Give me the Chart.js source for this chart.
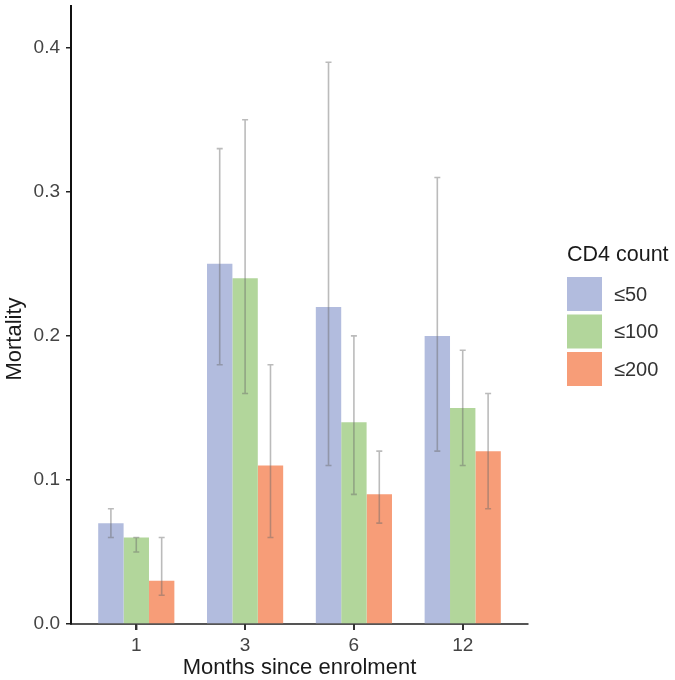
<!DOCTYPE html>
<html>
<head>
<meta charset="utf-8">
<script src="https://cdn.jsdelivr.net/npm/chart.js@4"></script>
<style>
  html, body { margin: 0; padding: 0; background: #fff; }
  #wrap { width: 675px; height: 680px; }
</style>
</head>
<body>
<div id="wrap"><canvas id="c" width="675" height="680"></canvas></div>
<script>
// ---- data ----
const categories = ['1', '3', '6', '12'];
const seriesNames = ['≤50', '≤100', '≤200'];
const colors = ['#B2BCDE', '#B2D69B', '#F79D78'];
const mortality50  = [0.07, 0.25, 0.22, 0.20];
const mortality100 = [0.06, 0.24, 0.14, 0.15];
const mortality200 = [0.03, 0.11, 0.09, 0.12];
const lower50  = [0.06, 0.18, 0.11, 0.12];
const upper50  = [0.08, 0.33, 0.39, 0.31];
const lower100 = [0.05, 0.16, 0.09, 0.11];
const upper100 = [0.06, 0.35, 0.20, 0.19];
const lower200 = [0.02, 0.06, 0.07, 0.08];
const upper200 = [0.06, 0.18, 0.12, 0.16];
const yTicks = [0.0, 0.1, 0.2, 0.3, 0.4];
const legendTitle = 'CD4 count';
const xTitle = 'Months since enrolment';
const yTitle = 'Mortality';

const values = [mortality50, mortality100, mortality200];
const lowers = [lower50, lower100, lower200];
const uppers = [upper50, upper100, upper200];

const FONT = "'Liberation Sans', Arial, sans-serif";

const datasets = seriesNames.map((name, s) => ({
  label: name,
  data: values[s].map((v, i) => ({ x: i, y: v, lo: lowers[s][i], hi: uppers[s][i] })),
  backgroundColor: colors[s],
  borderWidth: 0,
  categoryPercentage: 0.7,
  barPercentage: 1.0
}));

const errorBars = {
  id: 'errorBars',
  afterDatasetsDraw(chart) {
    const ctx = chart.ctx;
    const ys = chart.scales.y;
    ctx.save();
    ctx.strokeStyle = 'rgba(105,105,105,0.45)';
    ctx.lineWidth = 1.6;
    chart.data.datasets.forEach((ds, di) => {
      const meta = chart.getDatasetMeta(di);
      meta.data.forEach((bar, i) => {
        const d = ds.data[i];
        const x = bar.x;
        const y1 = ys.getPixelForValue(d.lo);
        const y2 = ys.getPixelForValue(d.hi);
        const cap = 3;
        ctx.beginPath();
        ctx.moveTo(x, y1); ctx.lineTo(x, y2);
        ctx.moveTo(x - cap, y1); ctx.lineTo(x + cap, y1);
        ctx.moveTo(x - cap, y2); ctx.lineTo(x + cap, y2);
        ctx.stroke();
      });
    });
    ctx.restore();
  }
};

const extras = {
  id: 'extras',
  afterDraw(chart) {
    const ctx = chart.ctx;
    const ca = chart.chartArea;
    const xs = chart.scales.x;
    ctx.save();
    // x tick marks
    ctx.fillStyle = '#333';
    categories.forEach((c, i) => {
      const px = Math.round(xs.getPixelForValue(i));
      ctx.fillRect(px - 1, ca.bottom, 2, 6);
    });
    // axis titles
    ctx.fillStyle = '#1a1a1a';
    ctx.font = '22px ' + FONT;
    ctx.textAlign = 'center';
    ctx.textBaseline = 'middle';
    ctx.fillText(xTitle, (ca.left + ca.right) / 2, 668);
    ctx.save();
    ctx.translate(15, 339);
    ctx.rotate(-Math.PI / 2);
    ctx.fillText(yTitle, 0, 0);
    ctx.restore();
    // legend
    ctx.textAlign = 'left';
    ctx.font = '21.5px ' + FONT;
    ctx.fillText(legendTitle, 567, 255);
    const sx = 567, sw = 35, sh = 34, sy0 = 277, step = 37.5;
    ctx.font = '20px ' + FONT;
    seriesNames.forEach((n, s) => {
      const y = sy0 + s * step;
      ctx.fillStyle = colors[s];
      ctx.fillRect(sx, y, sw, sh);
      ctx.fillStyle = '#333';
      ctx.fillText(n, 614, y + sh / 2 + 1);
    });
    ctx.restore();
  }
};

new Chart(document.getElementById('c'), {
  type: 'bar',
  data: { datasets },
  options: {
    responsive: false,
    animation: false,
    devicePixelRatio: 1,
    layout: { padding: { left: 0, right: 147, top: 6, bottom: 0 } },
    plugins: { legend: { display: false }, tooltip: { enabled: false } },
    scales: {
      x: {
        type: 'linear',
        min: -0.6,
        max: 3.6,
        offset: false,
        afterBuildTicks(scale) { scale.ticks = categories.map((c, i) => ({ value: i })); },
        afterFit(scale) { scale.height = 56; scale.paddingLeft = 0; scale.paddingRight = 0; },
        ticks: {
          callback: (v) => categories[v],
          font: { family: FONT, size: 19 },
          color: '#444',
          padding: 4,
          maxRotation: 0,
          autoSkip: false
        },
        grid: { offset: false, drawOnChartArea: false, drawTicks: true, tickLength: 6, color: '#555', lineWidth: 1.5 },
        border: { display: true, color: '#555', width: 2 }
      },
      y: {
        min: 0,
        max: 0.429,
        afterBuildTicks(scale) { scale.ticks = yTicks.map(v => ({ value: v })); },
        afterFit(scale) { scale.width = 71; scale.paddingTop = 0; scale.paddingBottom = 0; },
        ticks: {
          callback: (v) => Number(v).toFixed(1),
          font: { family: FONT, size: 19 },
          color: '#444',
          padding: 6
        },
        grid: { drawOnChartArea: false, drawTicks: true, tickLength: 5, color: '#222', lineWidth: 1.5 },
        border: { display: true, color: '#111', width: 2 }
      }
    }
  },
  plugins: [errorBars, extras]
});
</script>
</body>
</html>
